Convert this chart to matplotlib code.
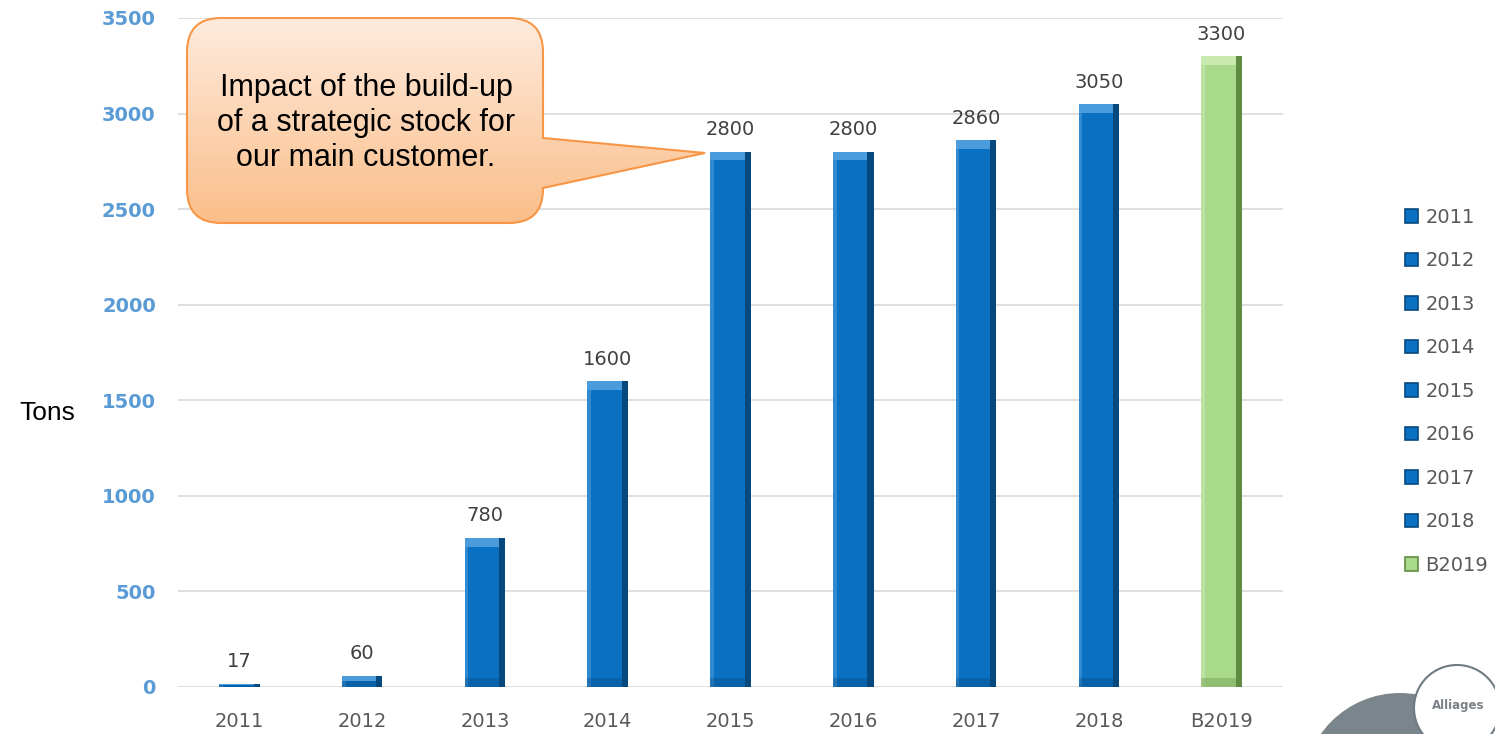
import matplotlib
matplotlib.use("Agg")
import matplotlib.pyplot as plt
import numpy as np
from matplotlib.path import Path
from matplotlib.patches import PathPatch, Circle, Patch

years = ["2011", "2012", "2013", "2014", "2015", "2016", "2017", "2018", "B2019"]
tons = [17, 60, 780, 1600, 2800, 2800, 2860, 3050, 3300]
face = ["#0A70C2"] * 8 + ["#A9D98B"]
shade = ["#06497F"] * 8 + ["#5F8C42"]
light = ["#4A9CDD"] * 8 + ["#C8EAAE"]
yticks = [0, 500, 1000, 1500, 2000, 2500, 3000, 3500]
note = "Impact of the build-up\nof a strategic stock for\nour main customer."

W, H = 1495, 734
fig = plt.figure(figsize=(W / 100, H / 100), dpi=100)
ax = fig.add_axes([178 / W, 47 / H, (1283 - 178) / W, 669 / H])

x = np.arange(len(years))
bw = 0.33
sw = 0.05
handles = []
for i, (yr, v) in enumerate(zip(years, tons)):
    ax.bar(x[i], v, width=bw, color=face[i], zorder=3)
    # bevel: dark right side, light left/top
    ax.bar(x[i] + bw / 2 - sw / 2, v, width=sw, color=shade[i], zorder=4)
    ax.bar(x[i] - bw / 2 + 0.015, v, width=0.03, color=light[i], alpha=0.6, zorder=4)
    cap = min(45, v / 2)
    ax.bar(x[i] - sw / 2, cap, width=bw - sw, bottom=v - cap, color=light[i], zorder=4)
    ax.bar(x[i] - sw / 2, cap, width=bw - sw, bottom=0, color=shade[i], alpha=0.35, zorder=4)
    ax.annotate(f"{v}", (x[i], v), xytext=(0, 9), textcoords="offset points",
                ha="center", va="bottom", fontsize=14, color="#404040")
    handles.append(Patch(facecolor=face[i], edgecolor=shade[i], linewidth=1.2, label=yr))

ax.set_xlim(-0.5, len(years) - 0.5)
ax.set_ylim(0, 3500)
ax.set_yticks(yticks)
ax.set_yticklabels([str(t) for t in yticks], fontsize=14, fontweight="bold", color="#5B9BD5")
ax.set_xticks(x)
ax.set_xticklabels(years, fontsize=14, color="#595959")
ax.tick_params(axis="both", length=0)
ax.tick_params(axis="y", pad=16)
ax.tick_params(axis="x", pad=18)
ax.grid(axis="y", color="#D9D9D9", linewidth=1.2, zorder=0)
for s in ax.spines.values():
    s.set_visible(False)

fig.text(47 / W, 1 - 413 / H, "Tons", family="Liberation Sans", fontsize=19,
         ha="center", va="center", color="black")

fig.legend(handles=handles, loc="upper left", bbox_to_anchor=(1397 / W, 1 - 200 / H),
           frameon=False, fontsize=14, labelcolor="#595959", handlelength=0.7,
           handleheight=0.7, handletextpad=0.35, labelspacing=1.26, borderaxespad=0)

# overlay in pixel coordinates for the callout and logo
ov = fig.add_axes([0, 0, 1, 1], zorder=5)
ov.set_xlim(0, W)
ov.set_ylim(H, 0)
ov.axis("off")

l, t, r, b, rad = 187, 18, 543, 223, 34
tip = (705, 153)
verts = [(l + rad, t), (r - rad, t), (r, t), (r, t + rad), (r, 138), tip, (r, 188),
         (r, b - rad), (r, b), (r - rad, b), (l + rad, b), (l, b), (l, b - rad),
         (l, t + rad), (l, t), (l + rad, t), (l + rad, t)]
codes = [Path.MOVETO, Path.LINETO, Path.CURVE3, Path.CURVE3, Path.LINETO, Path.LINETO,
         Path.LINETO, Path.LINETO, Path.CURVE3, Path.CURVE3, Path.LINETO, Path.CURVE3,
         Path.CURVE3, Path.LINETO, Path.CURVE3, Path.CURVE3, Path.CLOSEPOLY]
callout = PathPatch(Path(verts, codes), facecolor="none", edgecolor="#F79646", linewidth=1.5, zorder=3)
ov.add_patch(callout)
c_top = np.array(matplotlib.colors.to_rgb("#FEEBDD"))
c_bot = np.array(matplotlib.colors.to_rgb("#FBBE8A"))
g = np.linspace(0, 1, 256)[:, None]
grad = (c_top[None, :] * (1 - g) + c_bot[None, :] * g)[:, None, :]
im = ov.imshow(grad, extent=(l, tip[0], b, t), aspect="auto", zorder=2)
im.set_clip_path(callout)
ov.set_xlim(0, W)
ov.set_ylim(H, 0)
ov.text(366, 123, note, family="Liberation Sans", fontsize=22, ha="center",
        va="center", linespacing=1.2, color="black", zorder=4)

# logo corner
ov.add_patch(Circle((1400, 790), 97, facecolor="#7A868C", edgecolor="none", zorder=2, clip_on=True))
ov.add_patch(Circle((1457, 708), 43, facecolor="white", edgecolor="#6F7B82", linewidth=1.5, zorder=3))
ov.text(1458, 706, "Alliages", fontsize=8.5, fontweight="bold", color="#7A8086",
        ha="center", va="center", zorder=4)

fig.savefig("out.png", dpi=100)
